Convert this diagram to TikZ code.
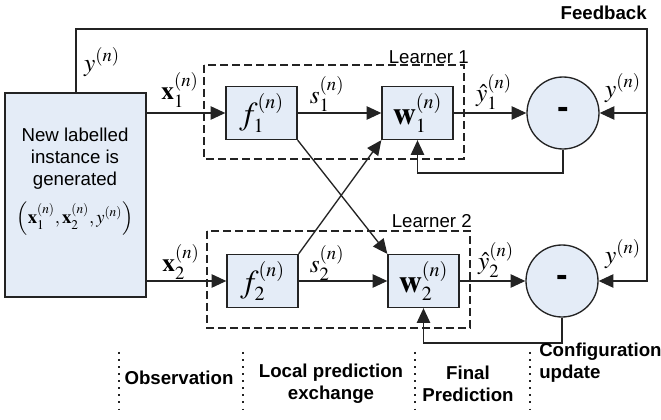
\documentclass[tikz,border=0pt]{standalone}
\usepackage{mathptmx}
\usepackage[no-math]{fontspec}
\setmainfont{Liberation Sans}
\usetikzlibrary{arrows.meta}
\DeclareMathSizes{14}{14}{10}{8}
\DeclareMathSizes{19}{19}{14}{10}
\DeclareMathSizes{24}{24}{15}{11}
\definecolor{boxfill}{RGB}{228,236,247}
\definecolor{ink}{RGB}{35,35,35}
\tikzset{
  ln/.style={draw=ink, line width=1pt},
  arr/.style={ln, -{Triangle[length=11pt,width=10pt]}},
  blk/.style={draw=ink, fill=boxfill, line width=1pt, minimum width=53.25pt, minimum height=39.75pt, inner sep=0pt, font=\fontsize{24}{28}\selectfont},
  sumc/.style={circle, draw=ink, fill=boxfill, line width=1pt, minimum size=54pt, inner sep=0pt, font=\fontsize{26}{26}\selectfont\bfseries},
  lrn/.style={draw=ink, line width=0.8pt, dash pattern=on 6pt off 3pt},
  lbl/.style={inner sep=0pt, font=\fontsize{19}{22}\selectfont},
  txt/.style={inner sep=0pt, align=center, font=\fontsize{14}{16.5}\selectfont},
  btxt/.style={inner sep=0pt, align=center, font=\fontsize{14}{16.5}\selectfont\bfseries},
  dotl/.style={draw=ink, line width=1.3pt, dash pattern=on 1.3pt off 4pt},
}
\begin{document}
\begin{tikzpicture}[x=0.75pt,y=-0.75pt]
\useasboundingbox (0,0) rectangle (661,420);
% dashed learner boxes
\draw[lrn] (204,65) rectangle (464,159);
\draw[lrn] (207,231) rectangle (470,328);
\node[txt, anchor=base east] (L1) at (469,64) {Learner 1};
\node[txt, anchor=base east] (L2) at (472,228) {Learner 2};
% generator
\node[draw=ink, fill=boxfill, line width=1pt, minimum width=105.75pt, minimum height=153pt, inner sep=0pt] (gen) at (75.5,195) {};
\node[txt] (gentxt) at (75,159) {New labelled\\instance is\\generated};
\node[inner sep=0pt, font=\fontsize{14}{16}\selectfont] (tuple) at (75,219) {$\left(\mathbf{x}_1^{(n)},\mathbf{x}_2^{(n)},y^{(n)}\right)$};
% blocks
\node[blk] (f1) at (261.5,113) {$f_1^{(n)}$};
\node[blk] (w1) at (417.5,113) {$\mathbf{w}_1^{(n)}$};
\node[sumc] (c1) at (563,113) {-};
\node[blk] (f2) at (262.5,281) {$f_2^{(n)}$};
\node[blk] (w2) at (423.5,281) {$\mathbf{w}_2^{(n)}$};
\node[sumc] (c2) at (562,281) {-};
% feedback loop coordinates
\coordinate (fbL) at (76,29);
\coordinate (fbR) at (647,29);
\coordinate (u1) at (0,173);
\coordinate (u2) at (0,343);
% connectors
\draw[arr] (gen.east |- f1) -- (f1.west);
\draw[arr] (gen.east |- f2) -- (f2.west);
\draw[arr] (f1.east) -- (w1.west);
\draw[arr] (f2.east) -- (w2.west);
\draw[arr] (w1.east) -- (c1.west);
\draw[arr] (w2.east) -- (c2.west);
\draw[arr] (f1.south east) -- (w2.north west);
\draw[arr] (f2.north east) -- (w1.south west);
\draw[arr] (gen.north -| fbL) -- (fbL) -- (fbR) |- (c2.east);
\draw[arr] (fbR |- c1) -- (c1.east);
\draw[arr] (c1.south) -- (c1.south |- u1) -| (w1.south);
\draw[arr] (c2.south) -- (c2.south |- u2) -| (w2.south);
% labels
\node[lbl] (ly0) at (102,62) {$y^{(n)}$};
\node[lbl] (lx1) at (180,90) {$\mathbf{x}_1^{(n)}$};
\node[lbl] (ls1) at (327,94) {$s_1^{(n)}$};
\node[lbl] (lh1) at (494,92) {$\hat{y}_1^{(n)}$};
\node[lbl] (ly1) at (623,88) {$y^{(n)}$};
\node[lbl] (lx2) at (181,262) {$\mathbf{x}_2^{(n)}$};
\node[lbl] (ls2) at (327,263) {$s_2^{(n)}$};
\node[lbl] (lh2) at (496,260) {$\hat{y}_2^{(n)}$};
\node[lbl] (ly2) at (623,254) {$y^{(n)}$};
\node[btxt, anchor=east] (fb) at (647,13) {Feedback};
% stage separators
\coordinate (d1t) at (119,352); \coordinate (d1b) at (119,412);
\coordinate (d2t) at (243,352); \coordinate (d2b) at (243,412);
\coordinate (d3t) at (415,352); \coordinate (d3b) at (415,412);
\coordinate (d4t) at (530,352); \coordinate (d4b) at (530,412);
\draw[dotl] (d1t) -- (d1b);
\draw[dotl] (d2t) -- (d2b);
\draw[dotl] (d3t) -- (d3b);
\draw[dotl] (d4t) -- (d4b);
\node[btxt] (s1) at (179,378) {Observation};
\node[btxt] (s2) at (331,384) {Local prediction\\exchange};
\node[btxt] (s3) at (468,384) {Final\\Prediction};
\node[btxt, align=left, anchor=west] (s4) at (539,363) {Configuration\\update};
\end{tikzpicture}
\end{document}
